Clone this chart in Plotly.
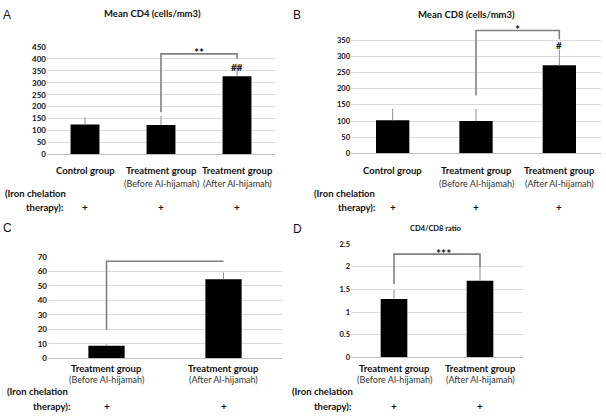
import plotly.graph_objects as go

W, H = 606, 418

# ---------------- data ----------------
cats_3 = ["Control group", "Treatment group (Before)", "Treatment group (After)"]
cats_2 = ["Treatment group (Before)", "Treatment group (After)"]

cd4_mean = [125, 123, 327]
cd4_err = [30, 38, 53]
cd8_mean = [102, 100, 272]
cd8_err = [36, 38, 48]
cd8_ratio_c = [8.7, 54.5]
c_err = [0.9, 4.7]
ratio_mean = [1.29, 1.69]
ratio_err = [0.2, 0.35]

# bracket heights: [left leg bottom, top, top, right leg bottom]
bracket_a = [176, 421, 421, 401]
bracket_b = [179, 380, 380, 353]
bracket_c = [19.7, 67, 67]
bracket_d = [1.62, 2.28, 2.28, 2.0]

ticks_a = list(range(0, 451, 50))
ticks_b = list(range(0, 351, 50))
ticks_c = list(range(0, 71, 10))
ticks_d = [0, 0.5, 1, 1.5, 2, 2.5]

label_line1_3 = ["Control group", "Treatment group", "Treatment group"]
label_line2_3 = ["", "(Before Al-hijamah)", "(After Al-hijamah)"]
label_line1_2 = ["Treatment group", "Treatment group"]
label_line2_2 = ["(Before Al-hijamah)", "(After Al-hijamah)"]

FONT = "Lato"


def px_x(p):
    return p / W


def px_y(p):
    return 1 - p / H


fig = go.Figure()

# panel geometry (pixels)
panels = {
    "": dict(x=(47, 275), y0=153, yscale=110 / 450, rtop=450, ticks=ticks_a, tfs=8),
    "2": dict(x=(351, 601), y0=152, yscale=116 / 350, rtop=400, ticks=ticks_b, tfs=7.5),
    "3": dict(x=(48, 282), y0=362, yscale=104 / 70, rtop=70, ticks=ticks_c, tfs=8),
    "4": dict(x=(351, 523), y0=361, yscale=116 / 2.5, rtop=2.5, ticks=ticks_d, tfs=7.5),
}

for k, p in panels.items():
    ytop = p["y0"] - p["rtop"] * p["yscale"]
    fig.layout["xaxis" + k] = dict(
        domain=[px_x(p["x"][0]), px_x(p["x"][1])],
        anchor="y" + k,
        type="category",
        showticklabels=False,
        showgrid=False,
        showline=True,
        linecolor="#bfbfbf",
        linewidth=1,
        ticks="",
        fixedrange=True,
    )
    fig.layout["yaxis" + k] = dict(
        domain=[px_y(p["y0"]), px_y(ytop)],
        anchor="x" + k,
        range=[0, p["rtop"]],
        tickvals=p["ticks"],
        ticktext=[f"<b>{t:g}</b>" for t in p["ticks"]],
        tickfont=dict(family=FONT, size=p["tfs"], color="#111"),
        showgrid=True,
        gridcolor="#dcdcdc",
        gridwidth=1,
        zeroline=False,
        showline=False,
        ticks="",
        fixedrange=True,
    )


def bars(x, y, err, k, width):
    fig.add_trace(go.Bar(
        x=x, y=y, width=width,
        marker=dict(color="black", line=dict(width=0)),
        error_y=dict(type="data", symmetric=False, array=err,
                     arrayminus=[0] * len(err), color="#8c8c8c",
                     thickness=1, width=0),
        xaxis="x" + k, yaxis="y" + k, showlegend=False, hoverinfo="skip",
    ))


bars(cats_3, cd4_mean, cd4_err, "", 0.38)
bars(cats_3, cd8_mean, cd8_err, "2", 0.40)
bars(cats_2, cd8_ratio_c, c_err, "3", 0.31)
bars(cats_2, ratio_mean, ratio_err, "4", 0.31)


def bracket(xs, ys, k):
    fig.add_trace(go.Scatter(
        x=xs, y=ys, mode="lines",
        line=dict(color="#7f7f7f", width=1.6),
        xaxis="x" + k, yaxis="y" + k, showlegend=False, hoverinfo="skip",
    ))


bracket([cats_3[1], cats_3[1], cats_3[2], cats_3[2]], bracket_a, "")
bracket([cats_3[1], cats_3[1], cats_3[2], cats_3[2]], bracket_b, "2")
bracket([cats_2[0], cats_2[0], cats_2[1]], bracket_c, "3")
bracket([cats_2[0], cats_2[0], cats_2[1], cats_2[1]], bracket_d, "4")

ann = []


def txt(x, y, text, size=9, xanchor="center", yanchor="middle", color="#111",
        family=FONT, xref="paper", yref="paper", yshift=0):
    ann.append(dict(x=x, y=y, text=text, showarrow=False, xref=xref, yref=yref,
                    xanchor=xanchor, yanchor=yanchor, yshift=yshift,
                    font=dict(family=family, size=size, color=color)))


# panel letters
for letter, (lx, ly) in {"A": (7, 10), "B": (297, 10), "C": (7, 228), "D": (297, 229)}.items():
    txt(px_x(lx), px_y(ly), letter, size=12, family="Liberation Sans")

# titles
txt(px_x(152), px_y(9), "<b>Mean CD4 (cells/mm3)</b>", size=9.5)
txt(px_x(466), px_y(10), "<b>Mean CD8 (cells/mm3)</b>", size=9.5)
txt(px_x(436), px_y(229), "<b>CD4/CD8 ratio</b>", size=7.5)

# significance marks
txt(1.5, bracket_a[1], "<b>**</b>", size=12, xref="x", yref="y", yshift=1)
txt(2, 364, "<b>##</b>", size=10, xref="x", yref="y")
txt(1.5, bracket_b[1], "<b>*</b>", size=12, xref="x2", yref="y2", yshift=1)
txt(2, 335, "<b>#</b>", size=10, xref="x2", yref="y2")
txt(0.58, bracket_d[1], "<b>***</b>", size=12, xref="x4", yref="y4", yshift=1)

# category labels
for k, l1, l2, y1, y2 in [("", label_line1_3, label_line2_3, 170, 183),
                          ("2", label_line1_3, label_line2_3, 170, 183),
                          ("3", label_line1_2, label_line2_2, 372, 384),
                          ("4", label_line1_2, label_line2_2, 372, 384)]:
    for i, (a, b) in enumerate(zip(l1, l2)):
        txt(i, px_y(y1), f"<b>{a}</b>", size=9.5, xref="x" + k)
        if b:
            txt(i, px_y(y2), b, size=9, xref="x" + k, color="#333")
        txt(i, px_y(y2 + 24 if k in ("", "2") else y2 + 27), "<b>+</b>", size=10, xref="x" + k)

# iron chelation labels
for (lx, ly, rx, ry) in [(3, 193, 65, 207), (312, 193, 377, 207),
                         (5, 396, 72, 411), (290, 396, 353, 411)]:
    txt(px_x(lx), px_y(ly), "<b>(Iron chelation</b>", size=9.5, xanchor="left")
    txt(px_x(rx), px_y(ry), "<b>therapy):</b>", size=9.5, xanchor="right")

fig.update_layout(
    annotations=ann,
    width=W, height=H,
    margin=dict(l=0, r=0, t=0, b=0),
    paper_bgcolor="white", plot_bgcolor="white",
    showlegend=False, bargap=0.6,
)

fig.write_html("out.html", config={"displayModeBar": False},
               post_script="document.body.style.margin='0';document.body.style.overflow='hidden';")
